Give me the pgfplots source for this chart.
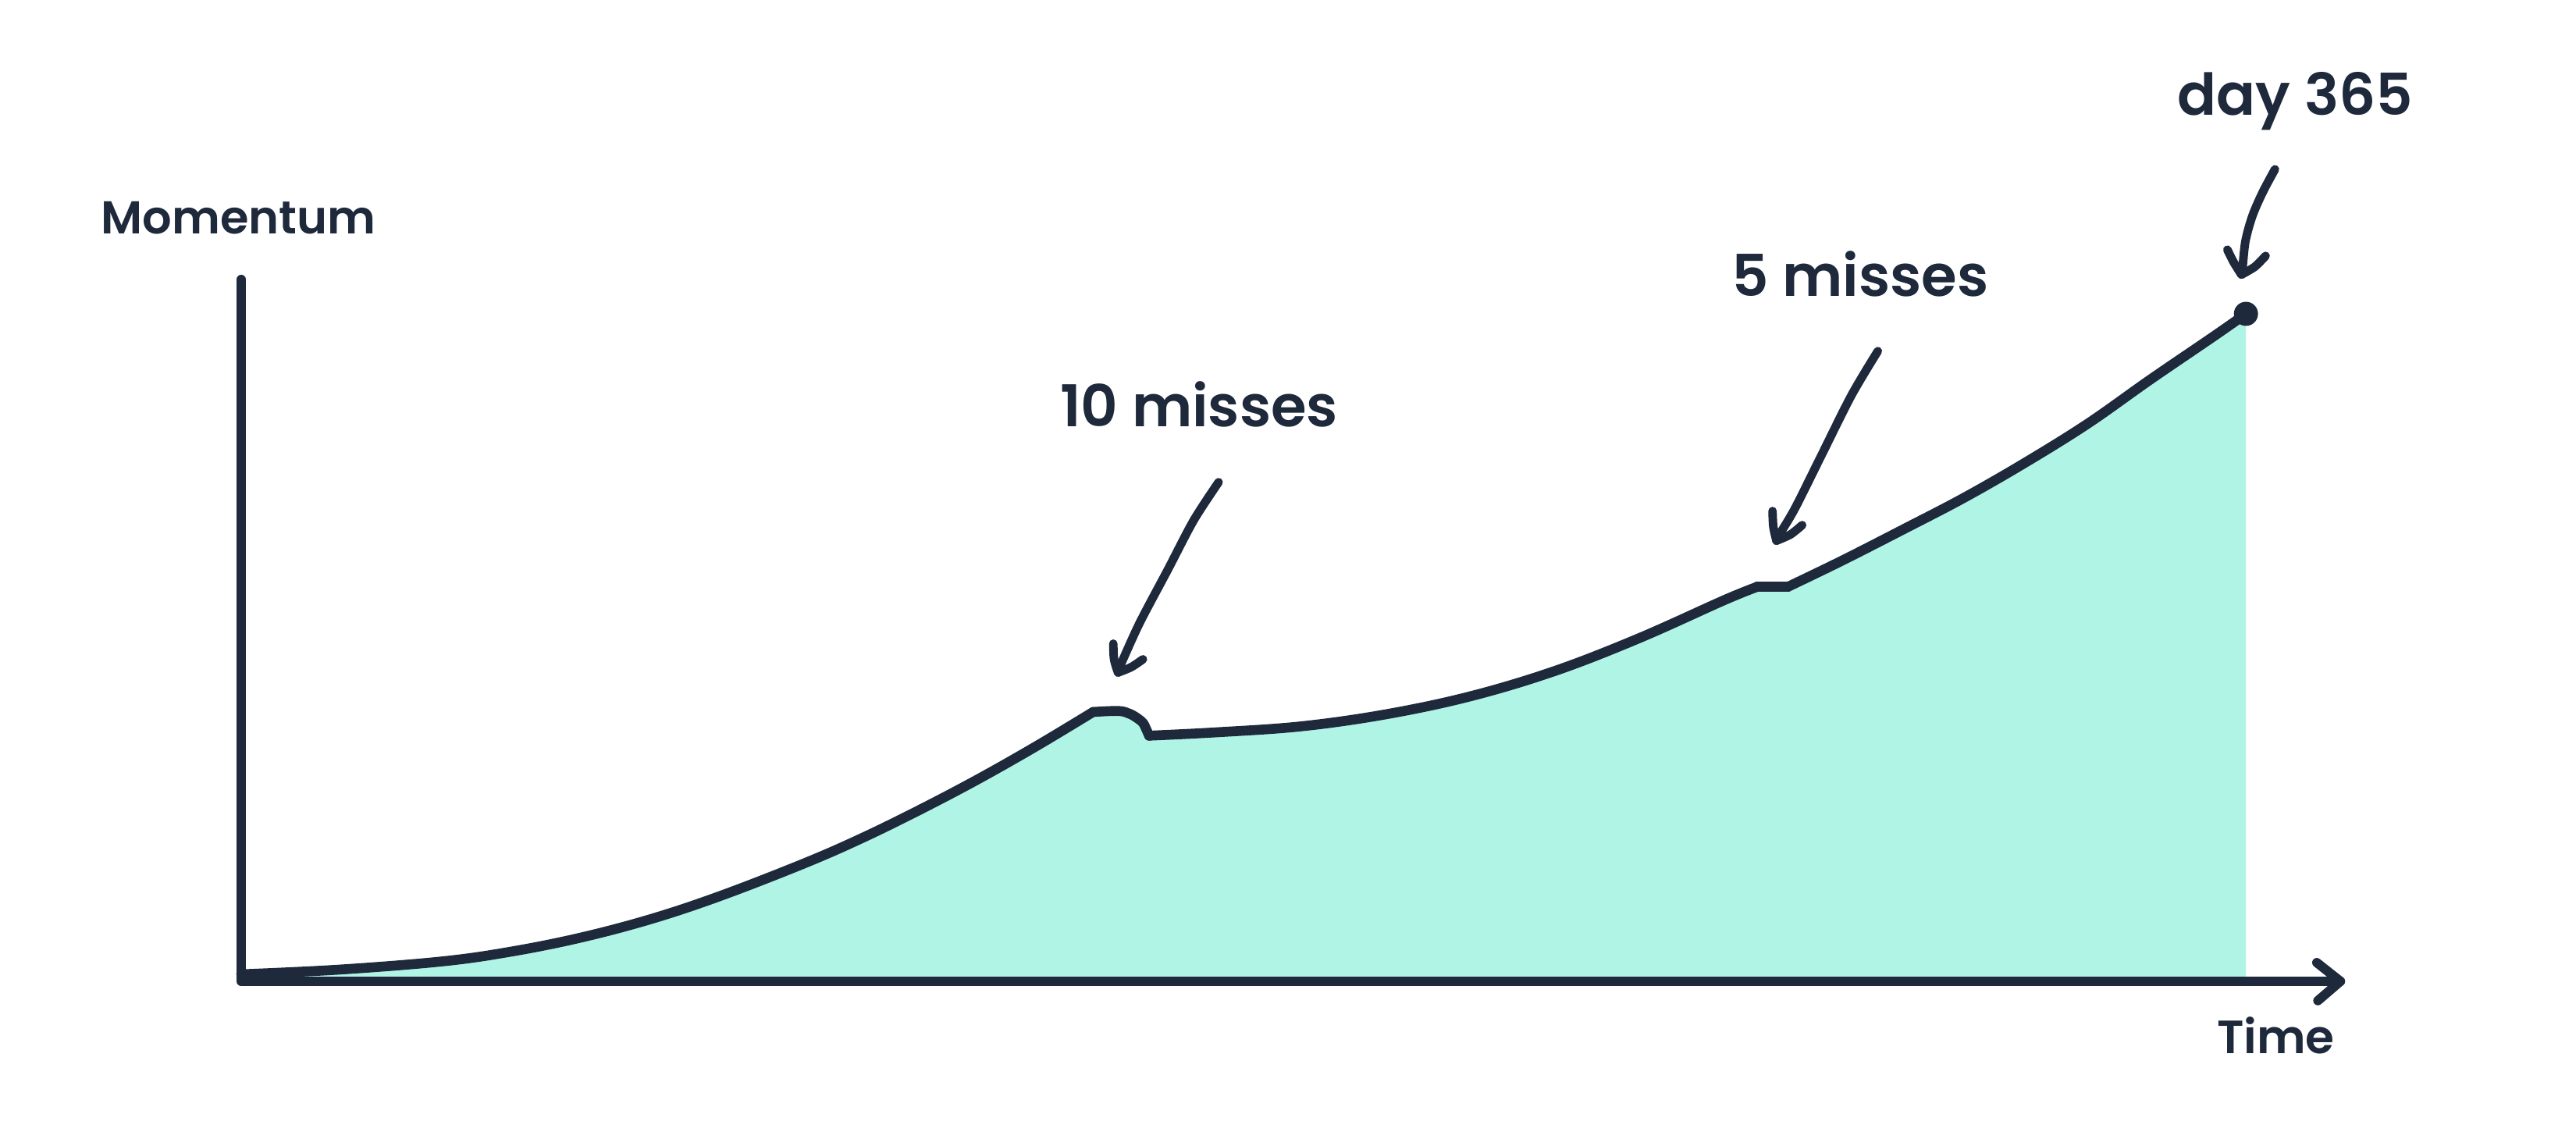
\documentclass[border=0pt]{standalone}
\usepackage{pgfplots}
\pgfplotsset{compat=1.18}
\usepackage{fontspec}
\setmainfont{Poppins}[BoldFont={Poppins SemiBold}]
\definecolor{ink}{HTML}{1E293B}
\definecolor{mint}{HTML}{B0F4E6}

\begin{document}
\begin{tikzpicture}
\begin{axis}[
  scale only axis, width=33cm, height=14.49cm,
  xmin=-43.92, xmax=425.10, ymin=-22.46, ymax=147.02,
  hide axis, clip=false,
]
% keep the full canvas as the picture's extent
\path (rel axis cs:0,0) rectangle (rel axis cs:1,1);

% area under the momentum curve
\addplot[draw=none, fill=mint] coordinates {
  (0,1.05) (17.8,1.75) (36.8,3.0) (49.5,4.5) (62.1,6.6) (74.9,9.4) (87.6,12.9)
  (102.9,17.8) (113.4,21.6) (123.8,25.8) (134.2,30.3) (144.7,35.2)
  (155.1,40.35) (159.7,40.5) (161.7,40.1) (163.2,39.4) (164.2,38.7) (164.7,37.9) (165.3,36.8)
  (177.5,37.3) (193.0,38.2) (208.4,40.0) (223.8,42.7) (239.2,46.5) (254.5,51.4)
  (270.0,57.1) (276.0,59.1) (281.6,59.1) (291.4,63.0) (302.6,67.7) (313.8,72.5)
  (325.0,77.8) (336.3,83.6) (347.5,90.1) (358.9,96.5) (365,100)
  (365,0) (0,0)} -- cycle;

% axes
\draw[ink, line width=3.4pt, line cap=round, line join=round]
  (axis cs:0,105.15) -- (axis cs:0,0) -- (axis cs:382.2,0);
\draw[ink, line width=3.4pt, line cap=round, line join=round]
  (axis cs:377.9,2.8) -- (axis cs:382.2,0) -- (axis cs:378.1,-2.9);

\pgfplotsset{curve/.style={ink, line width=3.6pt, line cap=round, line join=round}}
% steady build-up
\addplot[curve, smooth, tension=0.6] coordinates {
  (0,1.05) (17.8,1.75) (36.8,3.0) (49.5,4.5) (62.1,6.6) (74.9,9.4) (87.6,12.9)
  (102.9,17.8) (113.4,21.6) (123.8,25.8) (134.2,30.3) (144.7,35.2) (155.1,40.35)};
% drop after 10 misses
\addplot[curve, smooth, tension=0.6] coordinates {
  (155.1,40.35) (159.7,40.5) (161.7,40.1) (163.2,39.4) (164.2,38.7) (164.7,37.9) (165.3,36.8)};
\addplot[curve, smooth, tension=0.6] coordinates {
  (165.3,36.8) (177.5,37.3) (193.0,38.2) (208.4,40.0) (223.8,42.7)
  (239.2,46.5) (254.5,51.4) (270.0,57.1) (276.0,59.1)};
% pause after 5 misses
\addplot[curve] coordinates {(276.0,59.1) (281.6,59.1)};
\addplot[curve, smooth, tension=0.6] coordinates {
  (281.6,59.1) (291.4,63.0) (302.6,67.7) (313.8,72.5) (325.0,77.8)
  (336.3,83.6) (347.5,90.1) (358.9,96.5) (365,100)};
% end of the year
\addplot[only marks, mark=*, mark size=4.2pt, ink] coordinates {(365,100)};

\coordinate (tl) at (axis cs:-43.92,147.02);
\end{axis}

% labels and hand-drawn callouts, in page units from the top-left corner
\begin{scope}[shift={(tl)}, x=0.01cm, y=-0.01cm, ink, line width=3.1pt,
              line cap=round, line join=round]
  \node[anchor=base, font=\bfseries\fontsize{16.8}{20}\selectfont, text=ink] at (306,300) {Momentum};
  \node[anchor=base, font=\bfseries\fontsize{17}{20}\selectfont, text=ink] at (2917,1350) {Time};
  \node[anchor=base, font=\bfseries\fontsize{21}{25}\selectfont, text=ink] at (1537,547) {10 misses};
  \node[anchor=base, font=\bfseries\fontsize{21}{25}\selectfont, text=ink] at (2384,380) {5 misses};
  \node[anchor=base, font=\bfseries\fontsize{21}{25}\selectfont, text=ink] at (2942,148) {day 365};

  % arrow to the 10-miss drop
  \draw plot[smooth] coordinates {(1562,618) (1530,667) (1497,730) (1460,800) (1433,860)};
  \draw plot[smooth] coordinates {(1427,825) (1428,845) (1433,862)};
  \draw plot[smooth] coordinates {(1465,845) (1450,855) (1433,862)};
  % arrow to the 5-miss pause
  \draw plot[smooth] coordinates {(2407,450) (2373,507) (2333,587) (2300,653) (2277,691)};
  \draw plot[smooth] coordinates {(2272,655) (2273,675) (2277,693)};
  \draw plot[smooth] coordinates {(2310,673) (2295,685) (2277,693)};
  % arrow to day 365
  \draw plot[smooth] coordinates {(2916,217) (2900,247) (2887,277) (2878,310) (2874,350)};
  \draw plot[smooth] coordinates {(2855,320) (2863,336) (2873,352)};
  \draw plot[smooth] coordinates {(2904,328) (2890,342) (2873,352)};
\end{scope}
\end{tikzpicture}
\end{document}
